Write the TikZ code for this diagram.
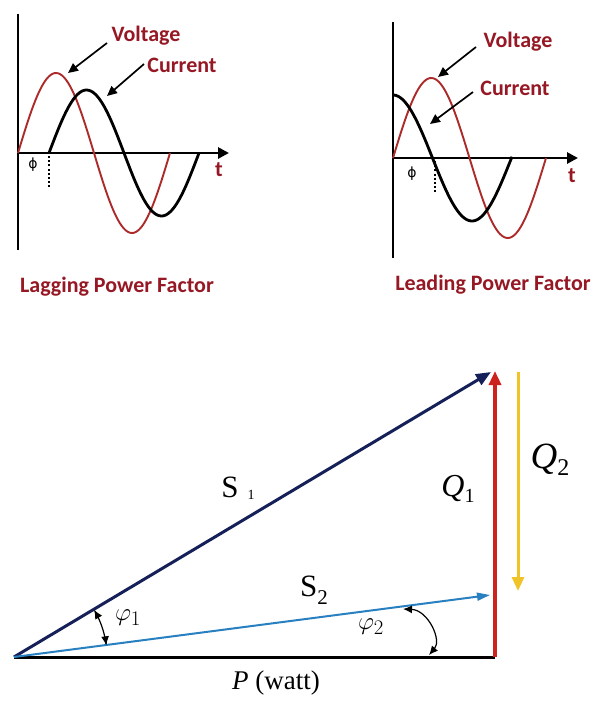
\documentclass[tikz,border=0pt]{standalone}
\usepackage{fontspec}
\setmainfont{Liberation Serif}
\newfontfamily\calib{Carlito}
\newfontfamily\dejavu{DejaVu Sans}
\usetikzlibrary{arrows.meta,calc}
\definecolor{lblred}{RGB}{150,24,36}
\definecolor{wavered}{RGB}{172,42,42}
\definecolor{navy}{RGB}{22,32,88}
\definecolor{qred}{RGB}{205,35,30}
\definecolor{qyellow}{RGB}{240,196,40}
\definecolor{sblue}{RGB}{40,128,192}
\begin{document}
\begin{tikzpicture}[x=1pt,y=-1pt,
  axis/.style={line width=2.8pt,black},
  axisarrow/.style={line width=2.8pt,black,-{Triangle[length=11pt,width=11pt]}},
  vwave/.style={line width=1.9pt,wavered},
  cwave/.style={line width=2.8pt,black},
  lbl/.style={font=\calib\bfseries\fontsize{22}{22}\selectfont,text=lblred,inner sep=0pt},
  pointer/.style={line width=1.7pt,black,-{Triangle[length=10pt,width=9pt]}},
  phasedots/.style={line width=2.4pt,dash pattern=on 2pt off 2.2pt},
  philbl/.style={font=\dejavu\fontsize{14}{14}\selectfont,inner sep=0pt},
  vec/.style={line width=3pt},
  mlbl/.style={inner sep=0pt},
  anglearrow/.style={line width=1.2pt,{Latex[length=9pt,width=8pt]}-{Latex[length=9pt,width=8pt]}}
]
\useasboundingbox (0,0) rectangle (599,707);
\fill[white] (0,0) rectangle (599,707);

% ---------- Lagging power factor ----------
\coordinate (LO) at (18,153);
\coordinate (Ltop) at (18,14);
\coordinate (Lbot) at (18,250);
\coordinate (Lend) at (229,153);
\draw[axis] (Ltop) -- (Lbot);
\draw[axisarrow] (LO) -- (Lend);
\draw[vwave] plot[domain=0:152,samples=80,smooth] ({18+\x},{153-80*sin(\x/152*360)});
\draw[cwave] plot[domain=0:150,samples=80,smooth] ({49+\x},{153-63*sin(\x/150*360)});
\coordinate (Ld1) at (49,156);
\coordinate (Ld2) at (49,187);
\draw[phasedots] (Ld1) -- (Ld2);
\node[philbl] (Lphi) at (33,165) {\char"03D5};
\node[lbl] (Lt) at (219,170) {t};
\node[lbl] (LV) at (146,36) {Voltage};
\node[lbl] (LC) at (182,65) {Current};
\coordinate (LVs) at (107,43);
\coordinate (LVe) at (68,73);
\coordinate (LCs) at (144,64);
\coordinate (LCe) at (107,96);
\draw[pointer] (LVs) -- (LVe);
\draw[pointer] (LCs) -- (LCe);
\node[lbl] (Ltitle) at (117,287) {Lagging Power Factor};

% ---------- Leading power factor ----------
\coordinate (RO) at (393,158);
\coordinate (Rtop) at (393,22);
\coordinate (Rbot) at (393,258);
\coordinate (Rend) at (578,158);
\draw[axis] (Rtop) -- (Rbot);
\draw[axisarrow] (RO) -- (Rend);
\draw[vwave] plot[domain=0:153,samples=80,smooth] ({393+\x},{158-80*sin(\x/153*360)});
\draw[cwave] plot[domain=0:119,samples=80,smooth] ({393+\x},{158-63*cos(\x/158*360)});
\coordinate (Rd1) at (435,161);
\coordinate (Rd2) at (435,193);
\draw[phasedots] (Rd1) -- (Rd2);
\node[philbl] (Rphi) at (412,174) {\char"03D5};
\node[lbl] (Rt) at (572,176) {t};
\node[lbl] (RV) at (518,42) {Voltage};
\node[lbl] (RC) at (515,88) {Current};
\coordinate (RVs) at (476,47);
\coordinate (RVe) at (438,77);
\coordinate (RCs) at (473,92);
\coordinate (RCe) at (430,124);
\draw[pointer] (RVs) -- (RVe);
\draw[pointer] (RCs) -- (RCe);
\node[lbl] (Rtitle) at (493,285) {Leading Power Factor};

% ---------- Power triangle ----------
\coordinate (O) at (14,657);
\coordinate (B) at (495,657);
\coordinate (T) at (495,371);
\coordinate (S1tip) at (491,372);
\coordinate (S2tip) at (490,595);
\coordinate (Q2top) at (518,372);
\coordinate (Q2bot) at (518,591);
\draw[vec,black] (O) -- (B);
\draw[vec,navy,-{Triangle[length=15pt,width=12pt]}] (O) -- (S1tip);
\draw[line width=2pt,sblue,-{Triangle[length=13pt,width=8pt]}] (O) -- (S2tip);
\draw[line width=3.4pt,qred,-{Triangle[length=14pt,width=12pt]}] (B) -- (T);
\draw[line width=3pt,qyellow,-{Triangle[length=14pt,width=12pt]}] (Q2top) -- (Q2bot);

% angle arrows
\draw[anglearrow] plot[domain=30.5:7.2,samples=25,smooth] ({14+93*cos(\x)},{657-93*sin(\x)});
\coordinate (p2a) at (403,609);
\coordinate (p2b) at (429,655);
\draw[anglearrow] (p2a) .. controls (428,610) and (442,640) .. (p2b);

% labels
\node[mlbl,font=\fontsize{31}{31}\selectfont] (S1) at (238,488) {S\hspace{9pt}\raisebox{-2pt}{\fontsize{14}{14}\selectfont 1}};
\node[mlbl,font=\fontsize{31}{31}\selectfont] (S2) at (314,590) {S\raisebox{-8pt}{\fontsize{21}{21}\selectfont 2}};
\node[mlbl,font=\fontsize{32}{32}\selectfont] (Q1) at (458,489) {\textit{Q}\raisebox{-6pt}{\fontsize{20}{20}\selectfont 1}};
\node[mlbl,font=\fontsize{37}{37}\selectfont] (Q2) at (550,460) {\textit{Q}\raisebox{-7pt}{\fontsize{24}{24}\selectfont 2}};
\node[mlbl,font=\fontsize{31}{31}\selectfont] (phi1) at (128,618) {$\varphi_1$};
\node[mlbl,font=\fontsize{31}{31}\selectfont] (phi2) at (371,627) {$\varphi_2$};
\node[mlbl,font=\fontsize{27}{27}\selectfont] (P) at (276,683) {\textit{P} (watt)};
\end{tikzpicture}
\end{document}
